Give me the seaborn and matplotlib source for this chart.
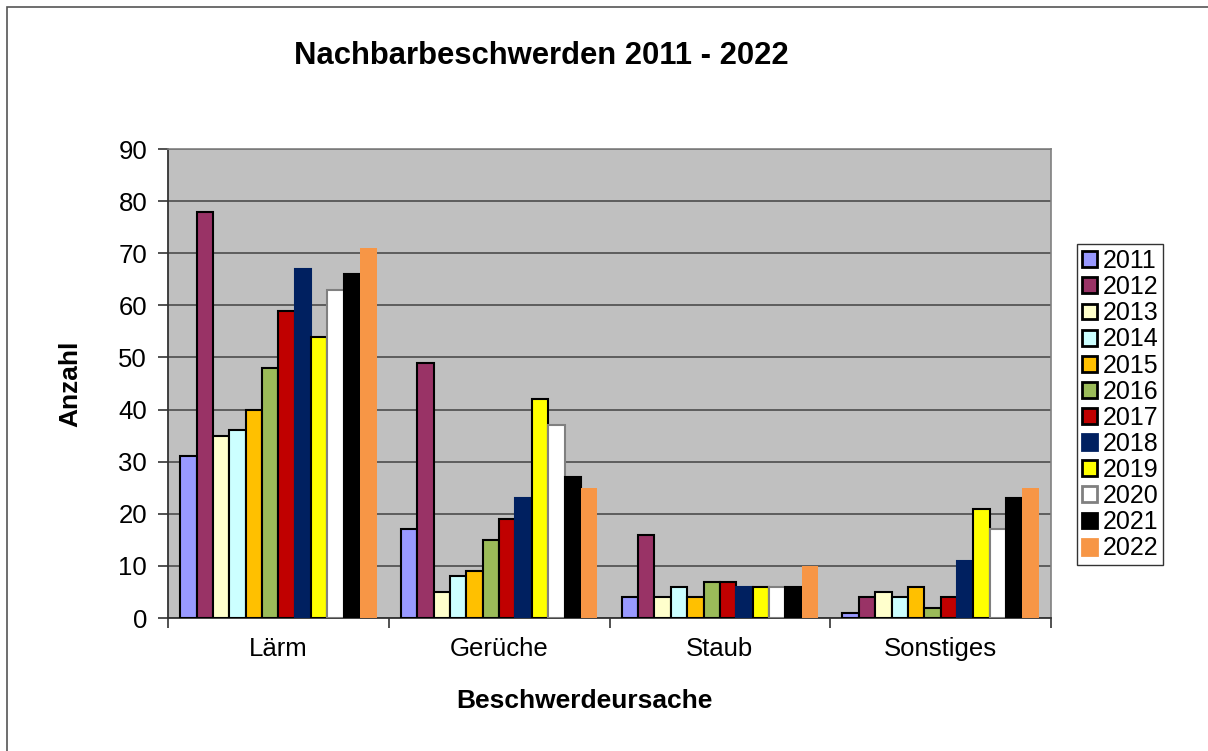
import numpy as np
import pandas as pd
import seaborn as sns
import matplotlib.pyplot as plt
from matplotlib.patches import Patch, Rectangle

sns.set_style("white")
plt.rcParams['font.family'] = ['Liberation Sans', 'DejaVu Sans']
plt.rcParams['text.color'] = "black"
plt.rcParams['axes.labelcolor'] = "black"
plt.rcParams['xtick.color'] = "black"
plt.rcParams['ytick.color'] = "black"

ursachen = ["Lärm", "Gerüche", "Staub", "Sonstiges"]
jahre = ["2011", "2012", "2013", "2014", "2015", "2016",
         "2017", "2018", "2019", "2020", "2021", "2022"]
laerm = [31, 78, 35, 36, 40, 48, 59, 67, 54, 63, 66, 71]
gerueche = [17, 49, 5, 8, 9, 15, 19, 23, 42, 37, 27, 25]
staub = [4, 16, 4, 6, 4, 7, 7, 6, 6, 6, 6, 10]
sonstiges = [1, 4, 5, 4, 6, 2, 4, 11, 21, 17, 23, 25]

farben = ["#9999FF", "#993366", "#FFFFCC", "#CCFFFF", "#FFC000", "#9BBB59",
          "#C00000", "#002060", "#FFFF00", "#FFFFFF", "#000000", "#F79646"]
kanten = ["black"] * 7 + ["#002060", "black", "#808080", "black", "none"]

rows = []
for name, werte in zip(ursachen, [laerm, gerueche, staub, sonstiges]):
    for j, w in zip(jahre, werte):
        rows.append({"Ursache": name, "Jahr": j, "Anzahl": w})
df = pd.DataFrame(rows)

fig = plt.figure(figsize=(12.08, 7.51), dpi=100)
ax = fig.add_axes([168 / 1208, 1 - 618 / 751, (1051 - 168) / 1208, (618 - 149) / 751])

sns.barplot(data=df, x="Ursache", y="Anzahl", hue="Jahr", hue_order=jahre,
            palette=farben, saturation=1, width=0.89, ax=ax, legend=False)

for cont, ec in zip(ax.containers, kanten):
    for bar in cont:
        bar.set_edgecolor(ec)
        bar.set_linewidth(1.5 if ec != "none" else 0)
        bar.set_zorder(3)

ax.set_facecolor("#C0C0C0")
ax.set_ylim(0, 90)
ax.set_xlim(-0.5, 3.5)
ax.set_yticks(range(0, 91, 10))
ax.yaxis.grid(True, color="#555555", linewidth=1.3, zorder=0)
ax.set_axisbelow(True)
for s in ["top", "right"]:
    ax.spines[s].set_color("#808080")
    ax.spines[s].set_linewidth(1.2)
for s in ["left", "bottom"]:
    ax.spines[s].set_color("#333333")
    ax.spines[s].set_linewidth(1.3)

ax.tick_params(axis="y", direction="out", length=7, width=1.2, color="#333333",
               labelsize=18.5, pad=8, left=True)
ax.tick_params(axis="x", which="major", length=0, labelsize=18.5, pad=14)
ax.set_xticks(np.arange(-0.5, 4.0, 1.0), minor=True)
ax.tick_params(axis="x", which="minor", direction="out", length=7, width=1.2,
               color="#333333", bottom=True)

ax.set_xlabel("")
ax.set_ylabel("Anzahl", fontsize=19, fontweight="bold", labelpad=26)
fig.text(584 / 1208, 1 - 701 / 751, "Beschwerdeursache",
         ha="center", va="center", fontsize=19, fontweight="bold")

fig.text(541 / 1208, 1 - 56 / 751, "Nachbarbeschwerden 2011 - 2022",
         ha="center", va="center", fontsize=22.3, fontweight="bold")

handles = [Patch(facecolor=f, edgecolor=(e if e != "none" else f), linewidth=2)
           for f, e in zip(farben, kanten)]
leg = fig.legend(handles, jahre, loc="upper left",
                 bbox_to_anchor=(1077 / 1208, 1 - 244 / 751),
                 fontsize=18, frameon=True, fancybox=False,
                 handlelength=0.6, handleheight=0.6, handletextpad=0.22,
                 labelspacing=0.085, borderpad=0.2, borderaxespad=0)
leg.get_frame().set_edgecolor("black")
leg.get_frame().set_linewidth(1.0)

fig.patches.append(Rectangle((7 / 1208, -0.1), 1.2, 1 - 7 / 751 + 0.1,
                             transform=fig.transFigure, fill=False,
                             edgecolor="#555555", linewidth=1.2))

fig.savefig("out.png", dpi=100)
